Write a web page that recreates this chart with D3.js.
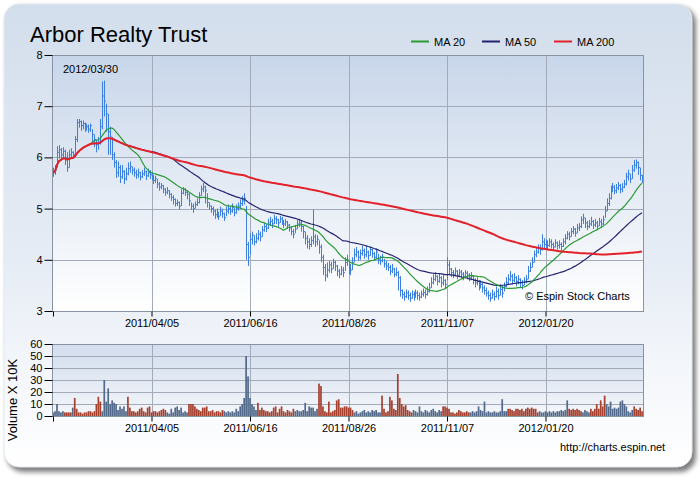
<!DOCTYPE html>
<meta charset="utf-8">
<style>
    body { margin: 0; background: #fff; }
    text { font-family: "Liberation Sans", Arial, sans-serif; fill: #000; }
    .axis path { display: none; }
    .axis line { stroke: #000; }
    .axis text { font-size: 11px; }
</style>
<body>
<script src="https://cdn.jsdelivr.net/npm/d3@7"></script>
<script>

    var title = "Arbor Realty Trust";
    var lastDate = "2012/03/30";

    // x ticks are bar indexes, first tick has no label
    var tickIndex = [0, 50, 100, 150, 200, 250];
    var tickLabel = ["", "2011/04/05", "2011/06/16", "2011/08/26", "2011/11/07", "2012/01/20"];

    var maPeriods = [20, 50, 200];
    var maNames = ["MA 20", "MA 50", "MA 200"];
    var maColors = ["#2a9a34", "#232370", "#e3212b"];

    var high = [
        5.80,5.85,6.22,6.24,6.18,6.20,6.15,6.10,6.15,6.18,
        6.12,6.42,6.75,6.75,6.72,6.72,6.68,6.66,6.64,6.66,
        6.55,6.45,6.35,6.40,6.75,7.48,7.50,7.05,6.85,6.60,
        6.40,6.10,5.95,5.92,5.85,5.85,5.75,5.80,5.90,5.92,
        5.82,5.80,5.76,5.78,5.72,5.75,5.80,5.74,5.78,5.75,
        5.72,5.66,5.64,5.58,5.52,5.50,5.46,5.40,5.42,5.36,
        5.30,5.26,5.20,5.18,5.14,5.38,5.42,5.40,5.35,5.30,
        5.12,5.10,5.14,5.20,5.32,5.45,5.50,5.45,5.30,5.12,
        5.06,5.04,4.98,5.00,4.94,5.04,5.00,4.92,5.04,5.08,
        5.05,5.10,5.02,5.08,5.12,5.18,5.25,5.30,5.05,4.35,
        4.52,4.55,4.48,4.52,4.58,4.55,4.66,4.72,4.70,4.80,
        4.84,4.80,4.88,4.85,4.80,4.86,4.84,4.78,4.80,4.76,
        4.70,4.65,4.60,4.68,4.78,4.80,4.76,4.66,4.55,4.48,
        4.42,4.46,4.98,4.50,4.48,4.38,4.30,4.10,3.92,3.95,
        3.98,3.96,4.02,3.98,3.90,3.82,3.88,3.86,4.05,4.10,
        3.96,3.92,4.05,4.22,4.25,4.18,4.20,4.28,4.22,4.26,
        4.18,4.26,4.22,4.15,4.22,4.12,4.08,4.12,4.02,3.98,
        3.94,3.90,3.92,3.84,3.85,3.78,3.68,3.42,3.38,3.42,
        3.40,3.36,3.40,3.38,3.42,3.40,3.36,3.40,3.44,3.42,
        3.48,3.55,3.66,3.72,3.76,3.70,3.74,3.68,3.70,3.62,
        4.05,3.98,3.84,3.80,3.85,3.80,3.82,3.80,3.76,3.80,
        3.78,3.74,3.76,3.70,3.64,3.66,3.60,3.60,3.55,3.50,
        3.46,3.40,3.36,3.42,3.38,3.48,3.44,3.52,3.50,3.56,
        3.66,3.72,3.78,3.72,3.74,3.68,3.70,3.64,3.60,3.66,
        3.70,3.88,3.95,4.05,4.18,4.25,4.30,4.30,4.50,4.42,
        4.40,4.38,4.42,4.40,4.34,4.40,4.36,4.38,4.34,4.42,
        4.50,4.56,4.55,4.62,4.66,4.62,4.70,4.72,4.85,4.90,
        4.82,4.76,4.78,4.84,4.78,4.80,4.76,4.82,4.80,4.86,
        5.05,5.20,5.30,5.45,5.50,5.46,5.48,5.52,5.48,5.50,
        5.56,5.70,5.76,5.68,5.85,5.95,5.96,5.92,5.80,5.66
    ];

    var low = [
        5.62,5.66,5.80,5.98,5.95,5.98,5.85,5.72,5.80,5.98,
        5.98,6.02,6.30,6.58,6.52,6.55,6.50,6.52,6.48,6.50,
        6.30,6.20,6.10,6.15,6.25,6.55,6.80,6.50,6.05,6.05,
        5.95,5.80,5.60,5.62,5.50,5.58,5.48,5.55,5.65,5.70,
        5.66,5.62,5.58,5.60,5.55,5.60,5.64,5.56,5.62,5.58,
        5.55,5.48,5.50,5.40,5.35,5.38,5.30,5.25,5.28,5.20,
        5.15,5.08,5.04,5.05,4.98,5.05,5.28,5.25,5.18,5.05,
        4.98,4.92,5.00,5.05,5.10,5.25,5.32,5.10,5.02,4.98,
        4.92,4.86,4.80,4.82,4.78,4.86,4.82,4.76,4.85,4.90,
        4.88,4.92,4.85,4.90,4.96,5.00,5.05,5.08,4.00,3.88,
        4.10,4.30,4.28,4.32,4.38,4.36,4.45,4.55,4.54,4.60,
        4.66,4.62,4.70,4.70,4.64,4.72,4.68,4.62,4.66,4.60,
        4.55,4.48,4.42,4.52,4.60,4.64,4.55,4.42,4.30,4.22,
        4.20,4.25,4.30,4.25,4.28,4.12,3.95,3.70,3.58,3.65,
        3.75,3.74,3.82,3.78,3.68,3.64,3.70,3.66,3.78,3.88,
        3.72,3.70,3.80,3.95,4.05,3.98,4.00,4.08,4.02,4.05,
        4.00,4.08,4.04,3.98,4.02,3.92,3.90,3.95,3.85,3.80,
        3.78,3.70,3.74,3.66,3.68,3.40,3.28,3.24,3.20,3.25,
        3.22,3.18,3.24,3.20,3.26,3.22,3.20,3.25,3.28,3.24,
        3.30,3.36,3.45,3.52,3.58,3.50,3.55,3.46,3.50,3.44,
        3.60,3.72,3.66,3.64,3.68,3.62,3.66,3.64,3.60,3.66,
        3.62,3.58,3.60,3.52,3.46,3.50,3.40,3.44,3.36,3.32,
        3.28,3.22,3.18,3.24,3.20,3.26,3.22,3.30,3.26,3.38,
        3.46,3.52,3.58,3.52,3.56,3.48,3.52,3.46,3.42,3.50,
        3.54,3.62,3.76,3.85,3.95,4.05,4.12,4.10,4.18,4.20,
        4.22,4.20,4.25,4.22,4.18,4.24,4.20,4.22,4.16,4.25,
        4.30,4.40,4.38,4.45,4.50,4.45,4.52,4.56,4.62,4.70,
        4.62,4.58,4.62,4.66,4.60,4.64,4.58,4.66,4.62,4.68,
        4.82,4.95,5.05,5.18,5.32,5.28,5.30,5.36,5.30,5.32,
        5.40,5.45,5.55,5.50,5.58,5.72,5.78,5.66,5.55,5.50
    ];

    var close = [
        5.70,5.75,6.10,6.15,6.05,6.12,6.00,5.80,6.05,6.10,
        6.05,6.35,6.68,6.70,6.62,6.66,6.58,6.60,6.55,6.62,
        6.45,6.35,6.25,6.30,6.60,7.20,7.10,6.85,6.50,6.40,
        6.05,5.90,5.70,5.80,5.62,5.72,5.58,5.68,5.78,5.82,
        5.75,5.70,5.66,5.70,5.62,5.68,5.72,5.64,5.70,5.66,
        5.62,5.55,5.58,5.48,5.42,5.45,5.38,5.32,5.35,5.28,
        5.22,5.18,5.10,5.12,5.05,5.30,5.38,5.32,5.28,5.15,
        5.05,5.00,5.08,5.12,5.25,5.38,5.42,5.35,5.12,5.05,
        5.00,4.95,4.88,4.92,4.85,4.95,4.90,4.82,4.95,5.00,
        4.95,5.02,4.92,5.00,5.05,5.10,5.15,5.20,4.30,4.05,
        4.40,4.48,4.35,4.42,4.50,4.45,4.58,4.65,4.62,4.72,
        4.75,4.70,4.80,4.78,4.72,4.80,4.76,4.70,4.74,4.68,
        4.62,4.55,4.50,4.60,4.70,4.72,4.65,4.55,4.42,4.35,
        4.30,4.38,4.45,4.35,4.40,4.25,4.05,3.85,3.70,3.80,
        3.90,3.82,3.95,3.88,3.78,3.72,3.80,3.75,3.95,4.00,
        3.85,3.80,3.95,4.10,4.15,4.05,4.12,4.18,4.10,4.15,
        4.08,4.20,4.12,4.05,4.15,4.00,3.98,4.05,3.92,3.88,
        3.85,3.78,3.82,3.72,3.75,3.65,3.40,3.32,3.28,3.35,
        3.30,3.25,3.32,3.28,3.35,3.30,3.27,3.33,3.36,3.32,
        3.38,3.45,3.55,3.62,3.68,3.58,3.65,3.55,3.60,3.52,
        3.90,3.82,3.75,3.72,3.78,3.70,3.76,3.72,3.68,3.74,
        3.70,3.65,3.68,3.60,3.55,3.58,3.48,3.52,3.45,3.40,
        3.35,3.30,3.25,3.32,3.28,3.38,3.30,3.42,3.35,3.48,
        3.55,3.62,3.68,3.60,3.65,3.58,3.62,3.55,3.50,3.58,
        3.62,3.78,3.85,3.95,4.10,4.15,4.22,4.20,4.35,4.30,
        4.32,4.28,4.35,4.30,4.25,4.33,4.28,4.30,4.26,4.35,
        4.42,4.50,4.45,4.55,4.60,4.52,4.62,4.65,4.78,4.82,
        4.72,4.65,4.70,4.75,4.68,4.72,4.66,4.74,4.70,4.78,
        4.95,5.10,5.20,5.38,5.42,5.35,5.40,5.45,5.38,5.42,
        5.48,5.62,5.68,5.58,5.75,5.85,5.90,5.80,5.65,5.58
    ];

    // volume in units of 10K shares
    var volume = [
        3,4,10,4,3,4,3,3,3,3,
        7,15,6,3,3,2,3,3,4,4,
        3,4,10,16,12,4,30,12,23,10,
        13,11,10,5,8,6,8,4,16,7,
        4,4,3,4,6,7,4,3,7,8,
        3,4,4,3,4,5,6,5,3,2,
        6,3,7,8,5,7,3,4,3,10,
        10,10,8,6,5,4,7,7,8,4,
        4,5,3,4,4,3,5,4,3,4,
        3,4,3,6,4,8,10,15,50,33,
        15,10,8,5,11,5,7,5,4,4,
        3,4,7,8,3,6,8,4,3,5,
        4,3,6,4,5,4,4,5,11,4,
        8,7,7,4,6,27,25,8,4,3,
        12,3,4,5,13,14,7,7,8,8,
        7,7,5,3,4,2,3,4,5,3,
        4,3,5,4,5,3,3,17,6,3,
        4,16,13,6,5,35,15,10,8,9,
        5,4,3,5,4,3,8,4,3,5,
        4,3,5,6,4,3,5,4,8,8,
        7,6,3,3,2,3,5,4,3,3,
        4,3,3,4,3,4,8,5,4,12,
        3,4,3,3,4,3,3,4,14,4,
        4,6,6,5,4,6,6,5,6,4,
        6,7,6,7,6,6,3,4,3,3,
        4,3,4,3,4,3,4,4,5,4,
        5,13,6,5,6,5,6,5,4,3,
        5,4,3,6,4,6,10,6,13,8,
        17,10,8,12,6,7,6,7,12,13,
        10,8,4,3,5,8,6,5,7,4
    ];

    // r = red bar, b = blue bar
    var volColor = [
        "bbbbbbrrrr","brrrrrrrrr","rrrrrbbbbb","bbbbbbbbrr","rrrrrrrrrr",
        "rrrrrrrrbb","bbbbbbbbbr","rrrrrrrrrr","rrrrrrrbbb","bbbbbbbbbb",
        "bbbbrrrrrr","rrrrrrrrrr","rrrbbbbbbb","bbbbbrrrrr","rrrrrrrrrr",
        "rrrbbbbbbb","bbbbbbbrrr","rrrrrrrrrr","rrrbbbbbbb","bbbbbbbbrr",
        "rrrrrrrrrr","rrbbbbbbbb","bbbbbbbbbb","brrrrrrrrr","rrrrrrrbbb",
        "bbbbbbbbbb","bbrrrrrrrb","bbbrrrrrrr","rbbbbbbbbb","bbbbbrrrrr"
    ].join("");

    var W = 700, H = 480;
    var left = 52, right = 643;
    var pTop = 55, pBottom = 311;
    var vTop = 344, vBottom = 416;
    var n = close.length;

    var x = d3.scaleLinear().domain([0, n]).range([left, right]);
    var y = d3.scaleLinear().domain([3, 8]).range([pBottom, pTop]);
    var yv = d3.scaleLinear().domain([0, 60]).range([vBottom, vTop]);
    var cx = function(i) { return x(i) + 1; };

    function movingAvg(vals, p) {
        var out = [], sum = 0;
        for (var i = 0; i < vals.length; i++) {
            sum += vals[i];
            if (i >= p) sum -= vals[i - p];
            out.push(sum / Math.min(i + 1, p));
        }
        return out;
    }

    var svg = d3.select("body").append("svg")
            .attr("width", W)
            .attr("height", H);

    var defs = svg.append("defs");

    var panelGrad = defs.append("linearGradient").attr("id", "panelGrad")
            .attr("x1", 0).attr("y1", 0).attr("x2", 0).attr("y2", 1);
    panelGrad.append("stop").attr("offset", "0%").attr("stop-color", "#d3deec");
    panelGrad.append("stop").attr("offset", "55%").attr("stop-color", "#e6ecf5");
    panelGrad.append("stop").attr("offset", "100%").attr("stop-color", "#ffffff");

    var plotGrad = defs.append("linearGradient").attr("id", "plotGrad")
            .attr("x1", 0).attr("y1", 0).attr("x2", 0).attr("y2", 1);
    plotGrad.append("stop").attr("offset", "0%").attr("stop-color", "#c8d6ea");
    plotGrad.append("stop").attr("offset", "100%").attr("stop-color", "#ffffff");

    var volGrad = defs.append("linearGradient").attr("id", "volGrad")
            .attr("x1", 0).attr("y1", 0).attr("x2", 0).attr("y2", 1);
    volGrad.append("stop").attr("offset", "0%").attr("stop-color", "#d2ddee");
    volGrad.append("stop").attr("offset", "100%").attr("stop-color", "#f4f6fa");

    var blur = defs.append("filter").attr("id", "shadow")
            .attr("x", "-5%").attr("y", "-5%").attr("width", "110%").attr("height", "110%");
    blur.append("feGaussianBlur").attr("stdDeviation", 2.5);

    // frame
    svg.append("rect")
            .attr("x", 7).attr("y", 7).attr("width", 689).attr("height", 465)
            .attr("rx", 16).attr("fill", "#7d7d7d").attr("filter", "url(#shadow)");
    svg.append("rect")
            .attr("x", 4).attr("y", 4).attr("width", 688).attr("height", 463)
            .attr("rx", 15).attr("fill", "url(#panelGrad)")
            .attr("stroke", "#e4e9f0").attr("stroke-width", 1);

    svg.append("text")
            .attr("x", 30).attr("y", 42)
            .style("font-size", "22px")
            .text(title);

    // legend
    var legX = [411, 482, 554];
    maNames.forEach(function(name, k) {
        svg.append("line")
                .attr("x1", legX[k]).attr("x2", legX[k] + 18)
                .attr("y1", 41.5).attr("y2", 41.5)
                .attr("stroke", maColors[k]).attr("stroke-width", 2);
        svg.append("text")
                .attr("x", legX[k] + 23).attr("y", 45.5)
                .style("font-size", "11px")
                .text(name);
    });

    // ---- price panel ----
    svg.append("rect")
            .attr("x", left).attr("y", pTop)
            .attr("width", right - left).attr("height", pBottom - pTop)
            .attr("fill", "url(#plotGrad)");

    var grid = svg.append("g").attr("stroke", "#a3abb8").attr("stroke-width", 1);
    grid.selectAll("line.h").data([4, 5, 6, 7]).enter().append("line")
            .attr("x1", left).attr("x2", right)
            .attr("y1", function(d) { return Math.round(y(d)) + 0.5; })
            .attr("y2", function(d) { return Math.round(y(d)) + 0.5; });
    grid.selectAll("line.v").data(tickIndex.slice(1)).enter().append("line")
            .attr("x1", function(d) { return Math.round(cx(d)) + 0.5; })
            .attr("x2", function(d) { return Math.round(cx(d)) + 0.5; })
            .attr("y1", pTop).attr("y2", pBottom);

    svg.append("text")
            .attr("x", 63).attr("y", 73)
            .style("font-size", "11px")
            .text(lastDate);

    svg.append("text")
            .attr("x", 525).attr("y", 300)
            .style("font-size", "11px")
            .text("\u00a9 Espin Stock Charts");

    // OHLC bars (high-low with close tick)
    var bars = svg.append("g").attr("stroke", "#3d7fdc").attr("stroke-width", 1);
    bars.selectAll("line.hl").data(close).enter().append("line")
            .attr("x1", function(d, i) { return Math.round(cx(i)) + 0.5; })
            .attr("x2", function(d, i) { return Math.round(cx(i)) + 0.5; })
            .attr("y1", function(d, i) { return y(high[i]); })
            .attr("y2", function(d, i) { return y(low[i]); });
    bars.selectAll("line.c").data(close).enter().append("line")
            .attr("x1", function(d, i) { return Math.round(cx(i)) + 1; })
            .attr("x2", function(d, i) { return Math.round(cx(i)) + 2; })
            .attr("y1", function(d) { return y(d); })
            .attr("y2", function(d) { return y(d); });

    // moving averages, 200 drawn last
    var line = d3.line()
            .x(function(d, i) { return cx(i); })
            .y(function(d) { return y(d); });
    [1, 0, 2].forEach(function(k) {
        svg.append("path")
                .datum(movingAvg(close, maPeriods[k]))
                .attr("d", line)
                .attr("fill", "none")
                .attr("stroke", maColors[k])
                .attr("stroke-width", k === 2 ? 2 : 1.2);
    });

    svg.append("rect")
            .attr("x", left + 0.5).attr("y", pTop + 0.5)
            .attr("width", right - left).attr("height", pBottom - pTop)
            .attr("fill", "none").attr("stroke", "#8893a3");

    var xAxis = d3.axisBottom(x)
            .tickValues(tickIndex)
            .tickFormat(function(d, i) { return tickLabel[i]; })
            .tickSize(5).tickPadding(3);
    // axis is built on cx, so shift by 1
    svg.append("g").attr("class", "axis")
            .attr("transform", "translate(1," + (pBottom + 0.5) + ")")
            .call(xAxis);

    svg.append("g").attr("class", "axis")
            .attr("transform", "translate(" + (left + 0.5) + ",0)")
            .call(d3.axisLeft(y).tickValues([3, 4, 5, 6, 7, 8]).tickFormat(d3.format("d"))
                    .tickSize(8).tickPadding(2));

    // ---- volume panel ----
    svg.append("rect")
            .attr("x", left).attr("y", vTop)
            .attr("width", right - left).attr("height", vBottom - vTop)
            .attr("fill", "url(#volGrad)");

    var vgrid = svg.append("g").attr("stroke", "#a3abb8").attr("stroke-width", 1);
    vgrid.selectAll("line.h").data([10, 20, 30, 40, 50]).enter().append("line")
            .attr("x1", left).attr("x2", right)
            .attr("y1", function(d) { return Math.round(yv(d)) + 0.5; })
            .attr("y2", function(d) { return Math.round(yv(d)) + 0.5; });
    vgrid.selectAll("line.v").data(tickIndex.slice(1)).enter().append("line")
            .attr("x1", function(d) { return Math.round(cx(d)) + 0.5; })
            .attr("x2", function(d) { return Math.round(cx(d)) + 0.5; })
            .attr("y1", vTop).attr("y2", vBottom);

    svg.append("g").selectAll("rect").data(volume).enter().append("rect")
            .attr("x", function(d, i) { return x(i) + 0.2; })
            .attr("width", 1.7)
            .attr("y", function(d) { return yv(d); })
            .attr("height", function(d) { return vBottom - yv(d); })
            .attr("fill", function(d, i) { return volColor[i] === "r" ? "#a5402f" : "#52698b"; });

    svg.append("rect")
            .attr("x", left + 0.5).attr("y", vTop + 0.5)
            .attr("width", right - left).attr("height", vBottom - vTop)
            .attr("fill", "none").attr("stroke", "#8893a3");

    svg.append("g").attr("class", "axis")
            .attr("transform", "translate(1," + (vBottom + 0.5) + ")")
            .call(xAxis);

    svg.append("g").attr("class", "axis")
            .attr("transform", "translate(" + (left + 0.5) + ",0)")
            .call(d3.axisLeft(yv).tickValues([0, 10, 20, 30, 40, 50, 60])
                    .tickSize(8).tickPadding(2));

    svg.append("text")
            .attr("transform", "translate(17,400) rotate(-90)")
            .attr("text-anchor", "middle")
            .style("font-size", "13px")
            .text("Volume X 10K");

    svg.append("text")
            .attr("x", 560).attr("y", 451)
            .style("font-size", "11px")
            .text("http://charts.espin.net");

</script>
